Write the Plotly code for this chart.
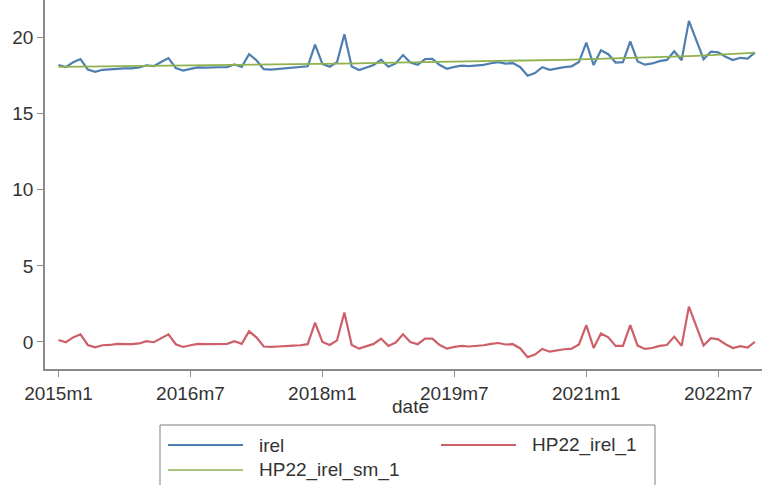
import plotly.graph_objects as go

# Monthly observations, 2015m1 .. 2022m12
months = [f"{2015 + i // 12}m{i % 12 + 1}" for i in range(96)]

irel = [
    18.21, 18.07, 18.39, 18.60, 17.90, 17.76, 17.89, 17.92, 17.99, 17.98,
    17.98, 18.04, 18.19, 18.13, 18.40, 18.66, 18.01, 17.84, 17.95, 18.05,
    18.03, 18.06, 18.06, 18.07, 18.25, 18.08, 18.92, 18.52, 17.93, 17.90,
    17.94, 18.00, 18.01, 18.04, 18.12, 19.55, 18.28, 18.09, 18.40, 20.23,
    18.11, 17.88, 18.06, 18.20, 18.56, 18.09, 18.31, 18.86, 18.37, 18.22,
    18.60, 18.61, 18.20, 17.96, 18.08, 18.16, 18.13, 18.18, 18.22, 18.32,
    18.39, 18.30, 18.33, 18.06, 17.50, 17.68, 18.06, 17.89, 17.99, 18.07,
    18.12, 18.40, 19.68, 18.20, 19.17, 18.92, 18.37, 18.39, 19.76, 18.44,
    18.23, 18.31, 18.46, 18.54, 19.11, 18.52, 21.11, 19.81, 18.59, 19.09,
    19.04, 18.75, 18.53, 18.68, 18.62, 19.02,
]

HP22_irel_sm_1 = [
    18.080, 18.085, 18.090, 18.095, 18.100, 18.105, 18.110, 18.115, 18.120, 18.125,
    18.130, 18.135, 18.140, 18.145, 18.150, 18.155, 18.160, 18.165, 18.170, 18.175,
    18.180, 18.186, 18.192, 18.198, 18.204, 18.210, 18.216, 18.222, 18.228, 18.234,
    18.240, 18.247, 18.254, 18.261, 18.268, 18.275, 18.282, 18.289, 18.296, 18.303,
    18.310, 18.317, 18.324, 18.331, 18.338, 18.345, 18.352, 18.359, 18.366, 18.373,
    18.380, 18.388, 18.396, 18.404, 18.412, 18.420, 18.428, 18.436, 18.444, 18.452,
    18.460, 18.470, 18.480, 18.490, 18.500, 18.510, 18.520, 18.530, 18.540, 18.550,
    18.560, 18.572, 18.584, 18.596, 18.608, 18.620, 18.634, 18.648, 18.662, 18.676,
    18.690, 18.707, 18.724, 18.741, 18.758, 18.775, 18.794, 18.813, 18.832, 18.851,
    18.870, 18.900, 18.930, 18.960, 18.990, 19.020,
]

HP22_irel_1 = [
    0.13, -0.02, 0.30, 0.50, -0.20, -0.35, -0.22, -0.20, -0.13, -0.15,
    -0.15, -0.10, 0.05, -0.02, 0.25, 0.50, -0.15, -0.33, -0.22, -0.13,
    -0.15, -0.13, -0.13, -0.13, 0.05, -0.13, 0.70, 0.30, -0.30, -0.33,
    -0.30, -0.25, -0.24, -0.22, -0.15, 1.27, 0.00, -0.20, 0.10, 1.93,
    -0.20, -0.44, -0.26, -0.13, 0.22, -0.26, -0.04, 0.50, 0.00, -0.15,
    0.22, 0.22, -0.20, -0.44, -0.33, -0.26, -0.30, -0.26, -0.22, -0.13,
    -0.07, -0.17, -0.15, -0.43, -1.00, -0.83, -0.46, -0.64, -0.55, -0.48,
    -0.44, -0.17, 1.10, -0.40, 0.56, 0.30, -0.26, -0.26, 1.10, -0.24,
    -0.46, -0.40, -0.26, -0.20, 0.35, -0.26, 2.32, 1.00, -0.24, 0.24,
    0.17, -0.15, -0.40, -0.28, -0.37, 0.00,
]

x_ticks = ["2015m1", "2016m7", "2018m1", "2019m7", "2021m1", "2022m7"]
y_ticks = [0, 5, 10, 15, 20]

FONT = "Liberation Sans, Arial, sans-serif"
TXT = "#333333"
AX = "#8a8a8a"

W, H = 762, 485
ML, MR, MT, MB = 45, 0, 0, 116
PW, PH = W - ML - MR, H - MT - MB


def px(x):
    """Pixel column -> paper x."""
    return (x - ML) / PW


def py(y):
    """Pixel row -> paper y."""
    return (H - MB - y) / PH


series = [
    ("irel", irel, "#4F7FAE", 2.2),
    ("HP22_irel_1", HP22_irel_1, "#CD5F68", 2.2),
    ("HP22_irel_sm_1", HP22_irel_sm_1, "#8DB24E", 1.8),
]

fig = go.Figure()
for name, vals, color, width in series:
    fig.add_trace(go.Scatter(x=months, y=vals, name=name, mode="lines",
                             line=dict(color=color, width=width)))

# Two-column key below the plot, Stata style
key_slots = [(168, 445), (441, 445), (168, 470)]
shapes = [dict(type="rect", xref="paper", yref="paper",
               x0=px(160), x1=px(655), y0=py(492), y1=py(425),
               line=dict(color="#7f7f7f", width=1), fillcolor="rgba(0,0,0,0)")]
annotations = []
for (name, _, color, width), (sx, sy) in zip(series, key_slots):
    shapes.append(dict(type="line", xref="paper", yref="paper",
                       x0=px(sx), x1=px(sx + 75), y0=py(sy), y1=py(sy),
                       line=dict(color=color, width=width * 0.8)))
    annotations.append(dict(text=name, xref="paper", yref="paper",
                            x=px(sx + 89), y=py(sy), xanchor="left", yanchor="middle",
                            showarrow=False, font=dict(family=FONT, size=19, color=TXT)))

annotations.append(dict(text="date", xref="paper", yref="paper",
                        x=px(410), y=py(407), xanchor="center", yanchor="middle",
                        showarrow=False, font=dict(family=FONT, size=19, color=TXT)))

fig.update_layout(
    width=W, height=H,
    margin=dict(l=ML, r=MR, t=MT, b=MB, autoexpand=False),
    paper_bgcolor="white", plot_bgcolor="white",
    font=dict(family=FONT, size=19, color=TXT),
    showlegend=False,
    shapes=shapes,
    annotations=annotations,
)

fig.update_xaxes(
    type="category", range=[-1.84, 95.97],
    tickmode="array", tickvals=x_ticks, ticktext=x_ticks,
    ticks="outside", ticklen=6, tickcolor=AX, tickwidth=1,
    showline=True, linecolor=AX, linewidth=1.5, showgrid=False, zeroline=False,
    tickfont=dict(family=FONT, size=19, color=TXT),
)
fig.update_yaxes(
    range=[-1.78, 22.48],
    tickmode="array", tickvals=y_ticks,
    ticks="outside", ticklen=6, tickcolor=AX, tickwidth=1,
    showline=True, linecolor=AX, linewidth=1.5, showgrid=False, zeroline=False,
    tickfont=dict(family=FONT, size=19, color=TXT),
)

fig.write_html("out.html")
